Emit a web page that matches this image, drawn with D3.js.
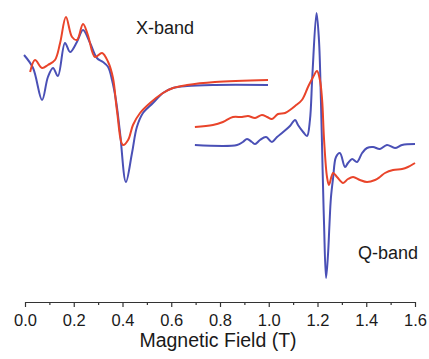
<!DOCTYPE html>
<html>
<head>
<meta charset="utf-8">
<script src="https://cdn.jsdelivr.net/npm/d3@7"></script>
<style>
  html, body { margin: 0; padding: 0; background: #fff; }
  svg { display: block; font-family: "Liberation Sans", Arial, Helvetica, sans-serif; }
</style>
</head>
<body>
<svg id="chart" width="429" height="359"></svg>
<script>
// X-band spectra (field in T, signal in a.u.)
const xRedField = [0.021, 0.041, 0.070, 0.094, 0.123, 0.144, 0.168, 0.193, 0.213, 0.238, 0.258, 0.287, 0.316, 0.341, 0.361, 0.377, 0.402, 0.423, 0.443, 0.472, 0.513, 0.566, 0.607, 0.665, 0.779, 0.997];
const xRedSignal = [228, 240, 232, 235, 240, 257, 283, 263, 260, 276, 265, 243, 247, 238, 222, 190, 155, 160, 175, 187, 197, 207, 212, 215, 218, 220];

const xBlueField = [-0.004, 0.033, 0.070, 0.094, 0.115, 0.135, 0.164, 0.185, 0.213, 0.238, 0.267, 0.295, 0.320, 0.341, 0.357, 0.373, 0.390, 0.414, 0.439, 0.459, 0.484, 0.525, 0.566, 0.607, 0.665, 0.779, 0.997];
const xBlueSignal = [245, 232, 200, 223, 232, 224, 257, 248, 258, 270, 257, 242, 238, 233, 220, 200, 167, 118, 147, 173, 187, 197, 207, 212, 214, 215, 215];

// Q-band spectra
const qRedField = [0.697, 0.771, 0.812, 0.853, 0.890, 0.915, 0.944, 0.972, 0.993, 1.013, 1.038, 1.067, 1.087, 1.108, 1.136, 1.161, 1.182, 1.198, 1.210, 1.219, 1.227, 1.239, 1.247, 1.264, 1.280, 1.305, 1.325, 1.346, 1.374, 1.403, 1.436, 1.456, 1.477, 1.510, 1.547, 1.571, 1.600];
const qRedSignal = [173, 175, 178, 183, 183, 184, 182, 185, 183, 181, 186, 187, 190, 194, 200, 213, 223, 229, 220, 200, 160, 123, 115, 127, 123, 117, 121, 123, 120, 118, 120, 123, 127, 130, 131, 133, 137];

const qBlueField = [0.697, 0.870, 0.894, 0.911, 0.931, 0.944, 0.964, 0.989, 1.013, 1.034, 1.059, 1.087, 1.108, 1.120, 1.141, 1.157, 1.169, 1.179, 1.196, 1.206, 1.214, 1.221, 1.227, 1.235, 1.243, 1.249, 1.255, 1.264, 1.276, 1.292, 1.313, 1.325, 1.342, 1.362, 1.383, 1.403, 1.428, 1.456, 1.485, 1.518, 1.547, 1.600];
const qBlueSignal = [155, 155, 158, 161, 158, 156, 160, 163, 158, 163, 168, 174, 180, 175, 168, 164, 180, 225, 287, 260, 200, 130, 75, 22, 45, 75, 102, 122, 143, 147, 133, 137, 141, 138, 147, 152, 153, 151, 155, 152, 155, 156];

const majorTicks = [0, 0.2, 0.4, 0.6, 0.8, 1.0, 1.2, 1.4, 1.6];
const minorTicks = [0.1, 0.3, 0.5, 0.7, 0.9, 1.1, 1.3, 1.5];

const RED = '#e9442a';
const BLUE = '#4a50b6';

let svg = d3.select('#chart');

let x = d3.scaleLinear().domain([0, 1.6]).range([25, 415]);
let y = d3.scaleLinear().domain([0, 300]).range([300, 0]);

let line = d3.line()
    .x(d => x(d[0]))
    .y(d => y(d[1]))
    .curve(d3.curveCatmullRom.alpha(0.5));

const series = [
    { field: xBlueField, signal: xBlueSignal, color: BLUE },
    { field: xRedField, signal: xRedSignal, color: RED },
    { field: qBlueField, signal: qBlueSignal, color: BLUE },
    { field: qRedField, signal: qRedSignal, color: RED },
];

svg.append('g')
    .selectAll('path')
    .data(series)
    .enter()
    .append('path')
    .attr('fill', 'none')
    .attr('stroke', d => d.color)
    .attr('stroke-width', 2)
    .attr('stroke-linejoin', 'round')
    .attr('d', d => line(d.field.map((f, i) => [f, d.signal[i]])));

// axis
let axisY = 302;
let minor = svg.append('g')
    .attr('transform', `translate(0,${axisY})`)
    .call(d3.axisBottom(x).tickValues(minorTicks).tickSize(3).tickSizeOuter(0).tickFormat(''));
minor.select('.domain').remove();

let major = svg.append('g')
    .attr('transform', `translate(0,${axisY})`)
    .call(d3.axisBottom(x).tickValues(majorTicks).tickSize(5).tickSizeOuter(0).tickPadding(7).tickFormat(d3.format('.1f')));

svg.selectAll('.domain, .tick line')
    .attr('stroke', '#333')
    .attr('stroke-width', 1.2);
major.selectAll('text')
    .attr('font-size', 16.5)
    .attr('fill', '#1a1a1a')
    .attr('font-family', '"Liberation Sans", Arial, sans-serif');

svg.append('text')
    .attr('x', 218)
    .attr('y', 347)
    .attr('text-anchor', 'middle')
    .attr('font-size', 19.5)
    .attr('fill', '#1a1a1a')
    .text('Magnetic Field (T)');

svg.append('text')
    .attr('x', 165)
    .attr('y', 34)
    .attr('text-anchor', 'middle')
    .attr('font-size', 18)
    .attr('fill', '#1a1a1a')
    .text('X-band');

svg.append('text')
    .attr('x', 388)
    .attr('y', 259)
    .attr('text-anchor', 'middle')
    .attr('font-size', 18)
    .attr('fill', '#1a1a1a')
    .text('Q-band');
</script>
</body>
</html>
